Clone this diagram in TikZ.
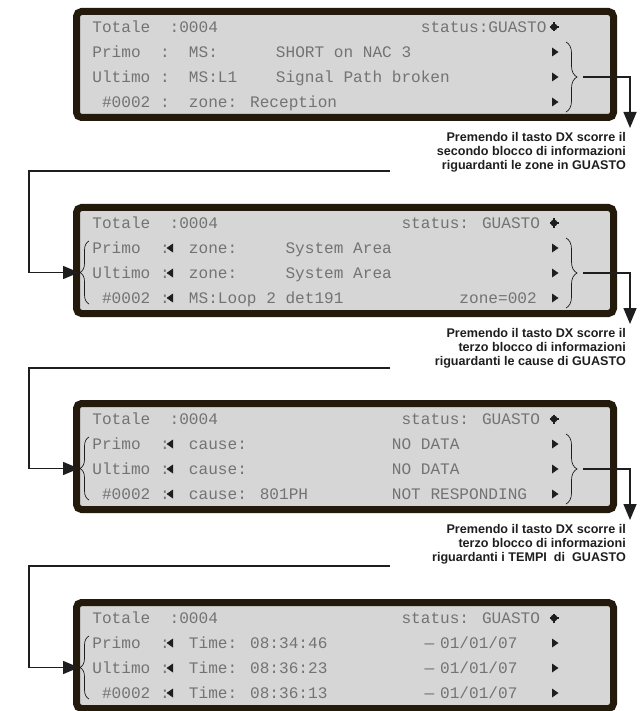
\documentclass[tikz,border=0pt]{standalone}
\usepackage{fontspec}
\setmainfont{Liberation Sans}
\newfontfamily\lcdfont{Liberation Mono}
\usetikzlibrary{arrows.meta,decorations.pathreplacing}
\definecolor{lcdbg}{HTML}{D6D6D6}
\definecolor{lcdframe}{HTML}{231A0C}
\definecolor{lcdtext}{HTML}{737373}
\definecolor{ink}{HTML}{1E1E1E}
\newlength\lcdw \setlength\lcdw{9.66pt}
\newcommand\lc[2]{\rlap{\hspace*{#1\lcdw}#2}}
\newcommand\rtri[1]{\fill[ink] (552,#1-4.5) -- (558.5,#1) -- (552,#1+4.5) -- cycle;}
\newcommand\ltri[1]{\fill[ink] (173,#1-4.5) -- (166.5,#1) -- (173,#1+4.5) -- cycle;}
\newcommand\bell[1]{\fill[ink] (554,#1) circle (3.4);
  \draw[ink,line width=1.4pt] (549.5,#1) -- (558.5,#1) (554,#1-4.5) -- (554,#1+4.5);}
\tikzset{
  panel/.style={draw=lcdframe, line width=7pt, fill=lcdbg, rounded corners=5pt,
    minimum width=537pt, minimum height=106pt, inner sep=0pt},
  lcdrow/.style={anchor=base west, inner sep=0pt, text=lcdtext,
    font=\lcdfont\fontsize{16.1}{16}\selectfont},
  caption/.style={anchor=north east, align=right, inner sep=0pt, text=ink,
    font=\bfseries\fontsize{12.6}{14.3}\selectfont},
  conn/.style={draw=ink, line width=1.5pt, line join=miter,
    -{Triangle[length=16pt,width=13pt]}},
  bracer/.style={draw=ink, line width=0.7pt, decorate,
    decoration={brace, amplitude=11pt}},
  bracel/.style={draw=ink, line width=0.7pt, decorate,
    decoration={brace, amplitude=9pt}},
}
\begin{document}
\begin{tikzpicture}[x=1pt,y=-1pt]
\useasboundingbox (0,0) rectangle (642,711);
% ---------------- panel 1 (T=8)
\node[panel] (P1) at (345,64.5) {};
\node[lcdrow] (p1a) at (91.7,32.3) {\lc{0}{Totale}\lc{8}{:0004}\lc{34}{status:GUASTO}};
\node[lcdrow] (p1b) at (91.7,57.3) {\lc{0}{Primo}\lc{7}{:}\lc{10}{MS:}\lc{19}{SHORT on NAC 3}};
\node[lcdrow] (p1c) at (91.7,82.3) {\lc{0}{Ultimo}\lc{7}{:}\lc{10}{MS:L1}\lc{19}{Signal Path broken}};
\node[lcdrow] (p1d) at (91.7,107.3) {\lc{1}{\#0002}\lc{7}{:}\lc{10}{zone: Reception}};
\bell{27}\rtri{52}\rtri{77}\rtri{102}
\draw[bracer] (566,42) -- (566,112);
% ---------------- panel 2 (T=204)
\node[panel] (P2) at (345,260.5) {};
\node[lcdrow] (p2a) at (91.7,228.3) {\lc{0}{Totale}\lc{8}{:0004}\lc{32}{status: GUASTO}};
\node[lcdrow] (p2b) at (91.7,253.3) {\lc{0}{Primo}\lc{7}{:}\lc{10}{zone:}\lc{20}{System Area}};
\node[lcdrow] (p2c) at (91.7,278.3) {\lc{0}{Ultimo}\lc{7}{:}\lc{10}{zone:}\lc{20}{System Area}};
\node[lcdrow] (p2d) at (91.7,303.3) {\lc{1}{\#0002}\lc{7}{:}\lc{10}{MS:Loop 2 det191}\lc{38}{zone=002}};
\bell{223}\rtri{248}\rtri{273}\rtri{298}\ltri{248}\ltri{273}\ltri{298}
\draw[bracer] (566,238) -- (566,308);
\draw[bracel] (89,304) -- (89,241);
% ---------------- panel 3 (T=400)
\node[panel] (P3) at (345,456.5) {};
\node[lcdrow] (p3a) at (91.7,424.3) {\lc{0}{Totale}\lc{8}{:0004}\lc{32}{status: GUASTO}};
\node[lcdrow] (p3b) at (91.7,449.3) {\lc{0}{Primo}\lc{7}{:}\lc{10}{cause:}\lc{31}{NO DATA}};
\node[lcdrow] (p3c) at (91.7,474.3) {\lc{0}{Ultimo}\lc{7}{:}\lc{10}{cause:}\lc{31}{NO DATA}};
\node[lcdrow] (p3d) at (91.7,499.3) {\lc{1}{\#0002}\lc{7}{:}\lc{10}{cause: 801PH}\lc{31}{NOT RESPONDING}};
\bell{419}\rtri{444}\rtri{469}\rtri{494}\ltri{444}\ltri{469}\ltri{494}
\draw[bracer] (566,434) -- (566,504);
\draw[bracel] (89,500) -- (89,437);
% ---------------- panel 4 (T=599)
\node[panel] (P4) at (345,655.5) {};
\node[lcdrow] (p4a) at (91.7,623.3) {\lc{0}{Totale}\lc{8}{:0004}\lc{32}{status: GUASTO}};
\node[lcdrow] (p4b) at (91.7,648.3) {\lc{0}{Primo}\lc{7}{:}\lc{10}{Time: 08:34:46}\lc{34.4}{—}\lc{36}{01/01/07}};
\node[lcdrow] (p4c) at (91.7,673.3) {\lc{0}{Ultimo}\lc{7}{:}\lc{10}{Time: 08:36:23}\lc{34.4}{—}\lc{36}{01/01/07}};
\node[lcdrow] (p4d) at (91.7,698.3) {\lc{1}{\#0002}\lc{7}{:}\lc{10}{Time: 08:36:13}\lc{34.4}{—}\lc{36}{01/01/07}};
\bell{618}\rtri{643}\rtri{668}\rtri{693}\ltri{643}\ltri{668}\ltri{693}
\draw[bracel] (89,699) -- (89,636);
% ---------------- captions
\node[caption] (c1) at (626,132) {Premendo il tasto DX scorre il\\secondo blocco di informazioni\\riguardanti le zone in GUASTO};
\node[caption] (c2) at (626,328) {Premendo il tasto DX scorre il\\terzo blocco di informazioni\\riguardanti le cause di GUASTO};
\node[caption] (c3) at (626,524) {Premendo il tasto DX scorre il\\terzo blocco di informazioni\\riguardanti i TEMPI~ di~ GUASTO};
% ---------------- connector coordinates
\coordinate (r1s) at (583,77);  \coordinate (r1k) at (630,77);  \coordinate (r1t) at (630,128);
\coordinate (r2s) at (583,273); \coordinate (r2k) at (630,273); \coordinate (r2t) at (630,324);
\coordinate (r3s) at (583,469); \coordinate (r3k) at (630,469); \coordinate (r3t) at (630,520);
\coordinate (l1s) at (390,171); \coordinate (l1k) at (29,171); \coordinate (l1m) at (29,272.5); \coordinate (l1t) at (79,272.5);
\coordinate (l2s) at (390,368); \coordinate (l2k) at (29,368); \coordinate (l2m) at (29,468.5); \coordinate (l2t) at (79,468.5);
\coordinate (l3s) at (390,566); \coordinate (l3k) at (29,566); \coordinate (l3m) at (29,667.5); \coordinate (l3t) at (79,667.5);
\draw[conn] (r1s) -- (r1k) -- (r1t);
\draw[conn] (r2s) -- (r2k) -- (r2t);
\draw[conn] (r3s) -- (r3k) -- (r3t);
\draw[conn] (l1s) -- (l1k) -- (l1m) -- (l1t);
\draw[conn] (l2s) -- (l2k) -- (l2m) -- (l2t);
\draw[conn] (l3s) -- (l3k) -- (l3m) -- (l3t);
\end{tikzpicture}
\end{document}
